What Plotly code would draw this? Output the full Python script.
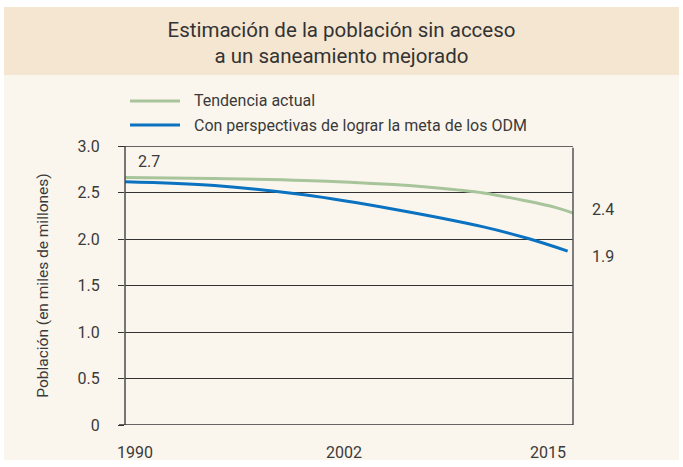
import plotly.graph_objects as go

# ---- data ----
years_trend = [1990, 1995, 2000, 2005, 2007, 2010, 2012.5, 2014, 2015]
trend_vals = [2.66, 2.65, 2.63, 2.585, 2.556, 2.495, 2.405, 2.34, 2.28]

years_goal = [1990, 1995, 2000, 2005, 2010, 2012.5, 2014.7]
goal_vals = [2.615, 2.575, 2.475, 2.32, 2.13, 2.005, 1.87]

series_names = ["Tendencia actual", "Con perspectivas de lograr la meta de los ODM"]
x_tick_vals = [1990, 2002, 2015]
x_tick_text = ["1990", "2002", "2015"]
y_tick_vals = [0, 0.5, 1.0, 1.5, 2.0, 2.5, 3.0]
y_tick_text = ["0", "0.5", "1.0", "1.5", "2.0", "2.5", "3.0"]
start_label = "2.7"
end_labels = ["2.4", "1.9"]

GREEN = "#a8c49a"
BLUE = "#0a72c0"
TEXT = "#3a3a3a"
FONT = "Roboto, Arial, sans-serif"
colors = [GREEN, BLUE]

fig = go.Figure()
fig.add_trace(go.Scatter(x=years_trend, y=trend_vals, mode="lines", name=series_names[0],
                         line=dict(color=GREEN, width=3, shape="spline", smoothing=1.0),
                         hoverinfo="skip", showlegend=False))
fig.add_trace(go.Scatter(x=years_goal, y=goal_vals, mode="lines", name=series_names[1],
                         line=dict(color=BLUE, width=3, shape="spline", smoothing=1.0),
                         hoverinfo="skip", showlegend=False))

# plot area: x 125..573, y 146..425 (px)
L, R, T, B = 125, 573, 146, 425
W, H = R - L, B - T
def px_x(p):
    return (p - L) / W
def px_y(p):
    return (B - p) / H

y_min, y_max = y_tick_vals[0], y_tick_vals[-1]
shapes = [
    dict(type="rect", xref="paper", yref="paper", x0=px_x(4), x1=px_x(679), y0=px_y(460), y1=px_y(75),
         fillcolor="#faf6ee", line=dict(width=0), layer="below"),
    dict(type="rect", xref="paper", yref="paper", x0=px_x(4), x1=px_x(679), y0=px_y(75), y1=px_y(7),
         fillcolor="#f5e6d1", line=dict(width=0), layer="below"),
    # frame: left axis, right border, baseline and top line (tied to the y scale)
    dict(type="line", xref="paper", yref="y", x0=0, x1=0, y0=y_min, y1=y_max,
         line=dict(color="#4a4a4a", width=1.5)),
    dict(type="line", xref="paper", yref="y", x0=1, x1=1, y0=y_min, y1=y_max - 0.02,
         line=dict(color="#555555", width=1.5)),
    dict(type="line", xref="paper", yref="y", x0=px_x(119), x1=1, y0=y_min, y1=y_min,
         line=dict(color="#333333", width=1.3)),
    dict(type="line", xref="paper", yref="y", x0=px_x(119), x1=1, y0=y_max, y1=y_max,
         line=dict(color="#333333", width=1.3)),
]

annotations = []
# legend (manual, to match the original layout)
legend_rows = [101, 125]
for name, col, row in zip(series_names, colors, legend_rows):
    shapes.append(dict(type="line", xref="paper", yref="paper", x0=px_x(130), x1=px_x(180),
                       y0=px_y(row), y1=px_y(row), line=dict(color=col, width=3)))
    annotations.append(dict(x=px_x(192), y=px_y(row), xref="paper", yref="paper", text=name,
                            showarrow=False, xanchor="left", yanchor="middle",
                            font=dict(size=16, color=TEXT, family=FONT)))
# x tick labels
anchors = ["left", "center", "right"]
shifts = [-10, 4, -5]
for v, t, a, s in zip(x_tick_vals, x_tick_text, anchors, shifts):
    annotations.append(dict(x=v, y=0, xref="x", yref="y", text=t, showarrow=False,
                            xanchor=a, yanchor="middle", xshift=s, yshift=-27,
                            font=dict(size=16, color=TEXT, family=FONT)))
# value labels
annotations.append(dict(x=years_trend[0], y=trend_vals[0], xref="x", yref="y", text=start_label,
                        showarrow=False, xanchor="center", yanchor="middle", xshift=24, yshift=16,
                        font=dict(size=16, color=TEXT, family=FONT)))
annotations.append(dict(x=years_trend[-1], y=trend_vals[-1], xref="x", yref="y", text=end_labels[0],
                        showarrow=False, xanchor="left", yanchor="middle", xshift=17, yshift=3,
                        font=dict(size=16, color=TEXT, family=FONT)))
annotations.append(dict(x=years_goal[-1], y=goal_vals[-1], xref="x", yref="y", text=end_labels[1],
                        showarrow=False, xanchor="left", yanchor="middle", xshift=22, yshift=-5,
                        font=dict(size=16, color=TEXT, family=FONT)))

fig.update_layout(
    width=683, height=467,
    margin=dict(l=L, r=683 - R, t=T, b=467 - B),
    paper_bgcolor="white",
    plot_bgcolor="rgba(0,0,0,0)",
    font=dict(family=FONT, color=TEXT, size=16),
    title=dict(text="Estimación de la población sin acceso<br>a un saneamiento mejorado",
               x=0.5, xref="container", xanchor="center",
               y=(467 - 36.5) / 467, yref="container", yanchor="middle",
               font=dict(size=20.5, color="#333333", family=FONT)),
    showlegend=False,
    xaxis=dict(range=[1990, 2015], showgrid=False, zeroline=False, showline=False,
               showticklabels=False, ticks="", fixedrange=True),
    yaxis=dict(range=[y_min, y_max], tickvals=y_tick_vals, ticktext=y_tick_text,
               showgrid=True, gridcolor="#333333", gridwidth=1.3, zeroline=False,
               showline=False,
               ticks="outside", ticklen=6, tickcolor="#333333", tickwidth=1.3,
               ticklabelstandoff=15,
               tickfont=dict(size=16, color=TEXT, family=FONT),
               title=dict(text="Población (en miles de millones)", standoff=25,
                          font=dict(size=15.5, color=TEXT, family=FONT)),
               fixedrange=True),
    shapes=shapes,
    annotations=annotations,
)

fig.write_html("out.html", config={"displayModeBar": False},
               post_script="document.body.style.margin='0px';")
